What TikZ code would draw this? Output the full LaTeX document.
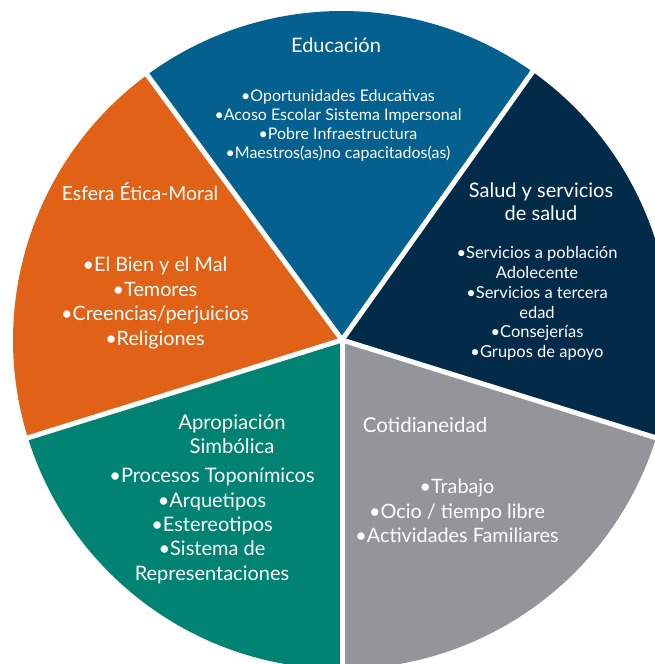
\documentclass[tikz,border=0pt]{standalone}
\usepackage{fontspec}
\setmainfont{Lato}

\definecolor{edublue}{HTML}{03608F}
\definecolor{saludnavy}{HTML}{012B49}
\definecolor{cotigrey}{HTML}{939598}
\definecolor{aproteal}{HTML}{018373}
\definecolor{esferaorange}{HTML}{E16216}

\tikzset{
  txt/.style={text=white, align=center, inner sep=0pt},
  sep/.style={white, line width=5pt}
}

\begin{document}
\begin{tikzpicture}[x=1pt, y=1pt]

\useasboundingbox (0,0) rectangle (655,664);
\clip (0,0) rectangle (655,664);

\coordinate (c) at (342,324);

\fill[edublue] (c) -- ++(54.6:329) arc (54.6:126.3:329) -- cycle;
\fill[esferaorange] (c) -- ++(126.3:329) arc (126.3:197.3:329) -- cycle;
\fill[aproteal] (c) -- ++(197.3:329) arc (197.3:270:329) -- cycle;
\fill[cotigrey] (c) -- ++(270:329) arc (270:342.7:329) -- cycle;
\fill[saludnavy] (c) -- ++(-17.3:329) arc (-17.3:54.6:329) -- cycle;

\draw[sep] (c) -- ++(54.6:340);
\draw[sep] (c) -- ++(126.3:340);
\draw[sep] (c) -- ++(197.3:340);
\draw[sep] (c) -- ++(270:340);
\draw[sep] (c) -- ++(-17.3:340);

\node[txt, font=\fontsize{20}{22}\selectfont] (edu) at (336,619) {Educación};
\node[txt, font=\fontsize{16}{19}\selectfont] (eduitems) at (338,538.5)
  {•Oportunidades Educativas\\•Acoso Escolar Sistema Impersonal\\•Pobre Infraestructura\\•Maestros(as)no capacitados(as)};

\node[txt, font=\fontsize{20}{23.5}\selectfont] (salud) at (541,462.5) {Salud y servicios\\de salud};
\node[txt, font=\fontsize{16.5}{19.8}\selectfont] (saluditems) at (537,360.5)
  {•Servicios a población\\Adolecente\\•Servicios a tercera\\edad\\•Consejerías\\•Grupos de apoyo};

\node[txt, font=\fontsize{19.4}{22}\selectfont] (esfera) at (140,472) {Esfera Ética-Moral};
\node[txt, font=\fontsize{19.8}{24.5}\selectfont] (esferaitems) at (155,361)
  {•El Bien y el Mal\\•Temores\\•Creencias/perjuicios\\•Religiones};

\node[txt, font=\fontsize{20.3}{24}\selectfont] (apro) at (232,230) {Apropiación\\Simbólica};
\node[txt, font=\fontsize{20}{24.3}\selectfont] (aproitems) at (212,138)
  {•Procesos Toponímicos\\•Arquetipos\\•Estereotipos\\•Sistema de\\Representaciones};

\node[txt, font=\fontsize{20.5}{22}\selectfont] (coti) at (425,239) {Cotidianeidad};
\node[txt, font=\fontsize{19.8}{24.5}\selectfont] (cotiitems) at (457,153)
  {•Trabajo\\•Ocio / tiempo libre\\•Actividades Familiares};

\end{tikzpicture}
\end{document}
